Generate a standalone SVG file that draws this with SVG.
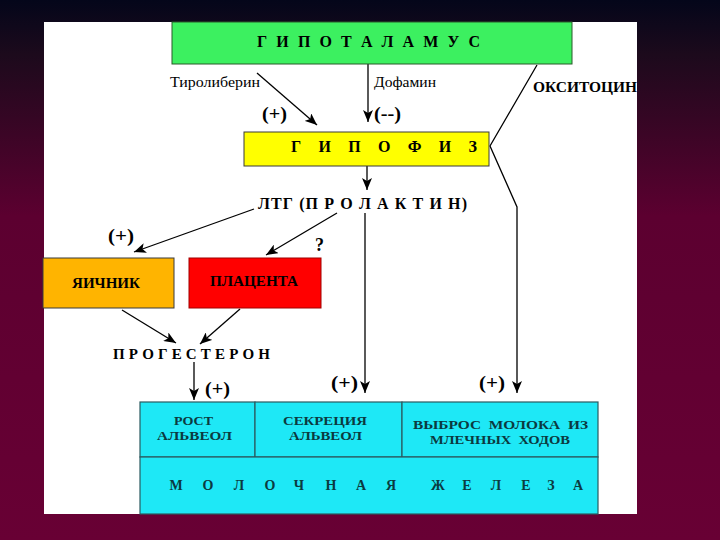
<svg xmlns="http://www.w3.org/2000/svg" width="720" height="540" viewBox="0 0 720 540">
<defs>
<linearGradient id="bg" x1="0" y1="0" x2="0" y2="1">
<stop offset="0" stop-color="#04061a"/>
<stop offset="0.1" stop-color="#1c0a1c"/>
<stop offset="0.4" stop-color="#5c0030"/>
<stop offset="1" stop-color="#680034"/>
</linearGradient>
<marker id="ah" markerUnits="userSpaceOnUse" markerWidth="13" markerHeight="10" refX="12" refY="5" orient="auto">
<path d="M0,0 L12,5 L0,10 L3,5 z" fill="#000"/>
</marker>
<style>
.t{font-family:"Liberation Serif","Times New Roman",serif;font-weight:bold;fill:#000}
.r{font-family:"Liberation Serif","Times New Roman",serif;font-weight:normal;fill:#000}
.ar{fill:none;stroke:#000;stroke-width:1.3;marker-end:url(#ah)}
.box{stroke:#3a3a3a;stroke-width:1}
.cy{fill:#1ee8f6;stroke:#2a5a60;stroke-width:1.2}
.ct{font-family:"Liberation Serif","Times New Roman",serif;font-weight:bold;fill:#0b3a40}
.m{text-anchor:middle}
</style>
</defs>
<rect x="0" y="0" width="720" height="540" fill="url(#bg)"/>
<rect x="44" y="22" width="593" height="492" fill="#ffffff"/>

<g id="connectors">
<line class="ar" x1="257" y1="73" x2="317" y2="125"/>
<line class="ar" x1="368" y1="64" x2="368" y2="122"/>
<polyline class="ar" points="537,65 490,146 517,207 517,393"/>
<line class="ar" x1="367" y1="166" x2="367" y2="190"/>
<line class="ar" x1="254" y1="209" x2="134" y2="252"/>
<line class="ar" x1="337" y1="213" x2="266" y2="255"/>
<line class="ar" x1="365" y1="213" x2="365" y2="393"/>
<line class="ar" x1="122" y1="310" x2="176" y2="343"/>
<line class="ar" x1="240" y1="309" x2="200" y2="344"/>
<line class="ar" x1="194" y1="362" x2="194" y2="400"/>
<text class="r" x="170" y="87" font-size="14" textLength="90" lengthAdjust="spacingAndGlyphs">Тиролиберин</text>
<text class="r" x="374" y="87" font-size="14" textLength="62" lengthAdjust="spacingAndGlyphs">Дофамин</text>
<text class="t" x="533" y="92" font-size="15" textLength="104" lengthAdjust="spacingAndGlyphs">ОКСИТОЦИН</text>
<text class="t" x="262" y="120" font-size="19" textLength="25" lengthAdjust="spacingAndGlyphs">(+)</text>
<text class="t" x="374" y="120" font-size="19" textLength="27" lengthAdjust="spacingAndGlyphs">(--)</text>
<text class="t" x="108" y="242" font-size="19" textLength="26" lengthAdjust="spacingAndGlyphs">(+)</text>
<text class="t" x="315" y="251" font-size="18">?</text>
<text class="t" x="205" y="395" font-size="19" textLength="25" lengthAdjust="spacingAndGlyphs">(+)</text>
<text class="t" x="331" y="389" font-size="19" textLength="27" lengthAdjust="spacingAndGlyphs">(+)</text>
<text class="t" x="479" y="389" font-size="19" textLength="26" lengthAdjust="spacingAndGlyphs">(+)</text>
</g>

<g id="hypothalamus">
<rect x="172" y="22" width="400" height="42" fill="#3cf060" stroke="#2a5a2a" stroke-width="1"/>
<text class="t" x="257" y="47" font-size="16" fill="#0a200a" textLength="223" lengthAdjust="spacing">Г И П О Т А Л А М У С</text>
</g>

<g id="hypophysis">
<rect class="box" x="244" y="132" width="245" height="34" fill="#ffff00"/>
<text class="t" x="291" y="152" font-size="16" textLength="186" lengthAdjust="spacing">Г И П О Ф И З</text>
</g>

<g id="prolactin">
<text class="t" x="258" y="209" font-size="16" textLength="209" lengthAdjust="spacing">ЛТГ (П Р О Л А К Т И Н)</text>
</g>

<g id="ovary">
<rect class="box" x="43" y="258" width="131" height="50" fill="#ffb400"/>
<text class="t" x="72" y="288" font-size="15" textLength="68" lengthAdjust="spacingAndGlyphs">ЯИЧНИК</text>
</g>

<g id="placenta">
<rect x="189" y="258" width="132" height="50" fill="#ff0000" stroke="#a00000" stroke-width="1"/>
<text class="t" x="210" y="286" font-size="15" fill="#2a0000" textLength="88" lengthAdjust="spacingAndGlyphs">ПЛАЦЕНТА</text>
</g>

<g id="progesterone">
<text class="t" x="113" y="359" font-size="15" textLength="157" lengthAdjust="spacing">П Р О Г Е С Т Е Р О Н</text>
</g>

<g id="alveoli-growth">
<rect class="cy" x="140" y="402" width="115" height="55"/>
<text class="ct" x="174" y="425" font-size="13.5" textLength="39" lengthAdjust="spacingAndGlyphs">РОСТ</text>
<text class="ct" x="157" y="440" font-size="13.5" textLength="75" lengthAdjust="spacingAndGlyphs">АЛЬВЕОЛ</text>
</g>

<g id="alveoli-secretion">
<rect class="cy" x="255" y="402" width="147" height="55"/>
<text class="ct" x="283" y="425" font-size="13.5" textLength="84" lengthAdjust="spacingAndGlyphs">СЕКРЕЦИЯ</text>
<text class="ct" x="289" y="440" font-size="13.5" textLength="73" lengthAdjust="spacingAndGlyphs">АЛЬВЕОЛ</text>
</g>

<g id="milk-ejection">
<rect class="cy" x="402" y="402" width="196" height="55"/>
<text class="ct" x="413" y="429" font-size="13.5" textLength="175" lengthAdjust="spacingAndGlyphs" xml:space="preserve">ВЫБРОС  МОЛОКА  ИЗ</text>
<text class="ct" x="430" y="444" font-size="13.5" textLength="140" lengthAdjust="spacingAndGlyphs" xml:space="preserve">МЛЕЧНЫХ  ХОДОВ</text>
</g>

<g id="mammary-gland">
<rect class="cy" x="140" y="457" width="458" height="57"/>
<text class="ct m" x="176 208 239 270 299 331 361 391 438 467 496 526 551 578" y="490" font-size="14">МОЛОЧНАЯЖЕЛЕЗА</text>
</g>
</svg>
